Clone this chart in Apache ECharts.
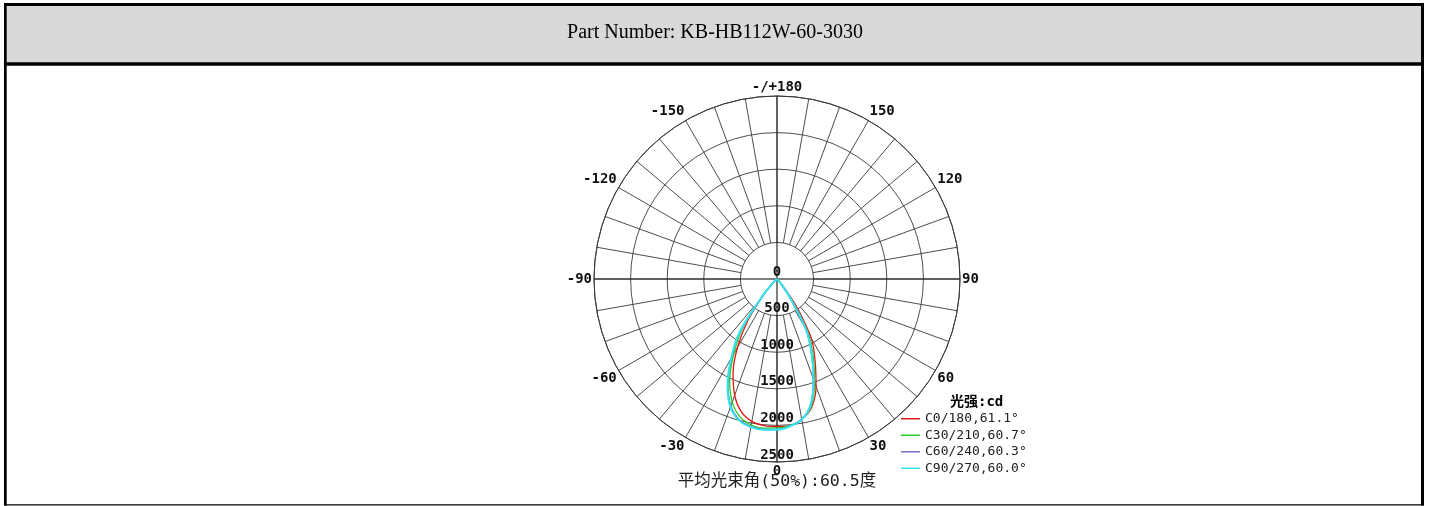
<!DOCTYPE html>
<html><head><meta charset="utf-8">
<script src="https://cdn.jsdelivr.net/npm/echarts/dist/echarts.min.js"></script>
<style>html,body{margin:0;padding:0;background:#fff}#c{width:1430px;height:506px}</style>
</head><body><div id="c"></div>
<script>
// ---- data ----
const partNumber = 'Part Number: KB-HB112W-60-3030';
const unitLabel = '光强:cd';
const beamLabel = '平均光束角(50%):60.5度';
const gammaAngles = [-90,-85,-80,-75,-70,-65,-60,-55,-50,-45,-40,-35,-30,-25,-20,-15,-10,-5,0,5,10,15,20,25,30,35,40,45,50,55,60,65,70,75,80,85,90];
const c0   = [0,0,0,0,0,0,5,15,40,110,300,700,1080,1420,1690,1880,1975,2010,2015,2010,1945,1820,1560,1230,940,480,140,45,15,5,0,0,0,0,0,0,0];
const c30  = [0,0,0,0,0,0,5,15,30,90,320,820,1180,1530,1790,1950,2025,2045,2035,2010,1950,1800,1500,1170,840,350,100,35,10,5,0,0,0,0,0,0,0];
const c60  = [0,0,0,0,0,0,5,15,30,90,320,880,1235,1585,1845,1990,2045,2060,2055,2015,1945,1775,1455,1115,785,295,90,30,10,5,0,0,0,0,0,0,0];
const c90  = [0,0,0,0,0,0,5,15,30,90,330,900,1250,1600,1860,2000,2055,2068,2060,2020,1950,1780,1460,1120,790,300,90,30,10,5,0,0,0,0,0,0,0];
const seriesNames = ['C0/180,61.1°','C30/210,60.7°','C60/240,60.3°','C90/270,60.0°'];
const radiusMax = 2500, radiusStep = 500;
const angleMin = -180, angleMax = 180, spokeStep = 10, labelStep = 30;

// ---- styles ----
const seriesColors = ['#e01818','#22d022','#7a6fc0','#30e4f0'];
const seriesWidths = [1.3,1.3,1.5,2];
const C = [777, 279], R = 183;
const mono = "'DejaVu Sans Mono', 'Noto Sans CJK SC', monospace";
const gridCol = '#3a3a3a';

const values = [c0, c30, c60, c90];
const series = values.map((arr, i) => ({
  name: seriesNames[i], type: 'line', coordinateSystem: 'polar', polarIndex: 0,
  data: arr.map((v, k) => [v, gammaAngles[k]]),
  symbol: 'none', smooth: 0.35, silent: true,
  lineStyle: { color: seriesColors[i], width: seriesWidths[i] },
  itemStyle: { color: seriesColors[i] }, z: 3 + i
}));

const chart = echarts.init(document.getElementById('c'), null, { renderer: 'canvas' });
chart.setOption({
  backgroundColor: '#fff',
  animation: false,
  graphic: [
    { type: 'rect', shape: { x: 4, y: 4, width: 1420, height: 60 }, style: { fill: '#d9d9d9' }, z: -10 },
    { type: 'rect', shape: { x: 4, y: 3, width: 1420, height: 3 }, style: { fill: '#000' } },
    { type: 'rect', shape: { x: 4, y: 62.3, width: 1420, height: 3.4 }, style: { fill: '#000' } },
    { type: 'rect', shape: { x: 4, y: 3, width: 2.7, height: 502.5 }, style: { fill: '#000' } },
    { type: 'rect', shape: { x: 1421, y: 3, width: 3, height: 502.5 }, style: { fill: '#000' } },
    { type: 'rect', shape: { x: 4, y: 504.3, width: 1420, height: 1.2 }, style: { fill: '#000' } }
  ],
  title: [
    { text: partNumber, left: 715, top: 23, textAlign: 'center', padding: 0,
      textStyle: { fontFamily: "'Liberation Serif', serif", fontSize: 20, fontWeight: 'normal', color: '#000' } },
    { text: unitLabel, left: 950, top: 395, padding: 0,
      textStyle: { fontFamily: mono, fontSize: 14, fontWeight: 'bold', color: '#000' } },
    { text: beamLabel, left: 777, top: 473.5, textAlign: 'center', padding: 0,
      textStyle: { fontFamily: mono, fontSize: 16.5, fontWeight: 'normal', color: '#222' } }
  ],
  legend: {
    orient: 'vertical', left: 901, top: 410.5, itemWidth: 19, itemHeight: 1.5, icon: 'rect',
    itemGap: 0, padding: 0, selectedMode: false,
    textStyle: { fontFamily: mono, fontSize: 13, lineHeight: 16.5, color: '#222' },
    data: seriesNames
  },
  polar: [
    { center: C, radius: [0, R] },
    { center: C, radius: [R / 5, R] },
    { center: C, radius: [0, R] }
  ],
  angleAxis: [
    { polarIndex: 0, type: 'value', min: angleMin, max: angleMax, interval: 90, startAngle: 90, clockwise: false,
      axisLine: { show: true, lineStyle: { color: gridCol, width: 1 } }, axisTick: { show: false },
      axisLabel: { show: false }, splitLine: { show: true, lineStyle: { color: '#000', width: 1 } } },
    { polarIndex: 1, type: 'value', min: angleMin, max: angleMax, interval: spokeStep, startAngle: 90, clockwise: false,
      axisLine: { show: false }, axisTick: { show: false },
      axisLabel: { show: true, margin: 2, fontFamily: mono, fontSize: 14, fontWeight: 'bold', color: '#111',
        formatter: v => (v % labelStep !== 0 || v === angleMax) ? '' : (v === angleMin ? '-/+180' : String(v)) },
      splitLine: { show: true, lineStyle: { color: gridCol, width: 0.9 } } },
    { polarIndex: 2, type: 'value', min: 0, max: 360, startAngle: 270, show: false }
  ],
  radiusAxis: [
    { polarIndex: 0, type: 'value', min: 0, max: radiusMax, interval: radiusStep,
      axisLine: { show: false }, axisTick: { show: false }, axisLabel: { show: false },
      splitLine: { show: true, lineStyle: { color: gridCol, width: 0.9 } } },
    { polarIndex: 1, type: 'value', min: 0, max: radiusMax, show: false },
    { polarIndex: 2, type: 'value', min: 0, max: radiusMax, interval: radiusStep, z: 10,
      axisLine: { show: false }, axisTick: { show: false }, splitLine: { show: false },
      axisLabel: { show: true, margin: 0, align: 'center', verticalAlign: 'bottom', rotate: 0,
        formatter: v => String(v),
        fontFamily: mono, fontSize: 14, fontWeight: 'bold', color: '#111' } }
  ],
  series: series
});
</script></body></html>
